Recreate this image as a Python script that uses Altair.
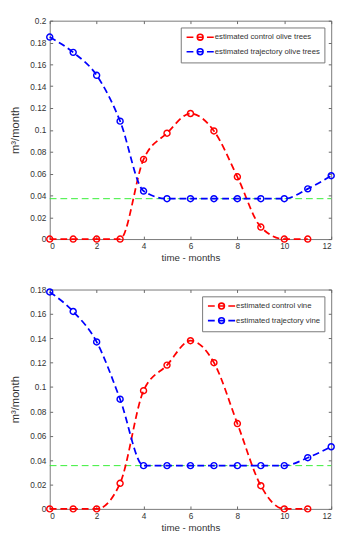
import altair as alt
import pandas as pd

months = list(range(13))
x_ticks = [0, 2, 4, 6, 8, 10, 12]

olive_labels = ["estimated control olive trees", "estimated trajectory olive trees"]
olive_control = [0, 0, 0, 0, 0.073, 0.097, 0.115, 0.099, 0.057, 0.011, 0, 0]
olive_traj = [0.185, 0.171, 0.150, 0.108, 0.044, 0.037, 0.037, 0.037, 0.037, 0.037, 0.037, 0.046, 0.058]
olive_ref = 0.037
olive_yticks = [0, 0.02, 0.04, 0.06, 0.08, 0.1, 0.12, 0.14, 0.16, 0.18, 0.2]

vine_labels = ["estimated control vine", "estimated trajectory vine"]
vine_control = [0, 0, 0, 0.021, 0.097, 0.118, 0.138, 0.120, 0.070, 0.019, 0, 0]
vine_traj = [0.178, 0.162, 0.137, 0.090, 0.0355, 0.0355, 0.0355, 0.0355, 0.0355, 0.0355, 0.0355, 0.042, 0.051]
vine_ref = 0.0355
vine_yticks = [0, 0.02, 0.04, 0.06, 0.08, 0.1, 0.12, 0.14, 0.16, 0.18]

FONT = "Liberation Sans"
LEG_SYMBOL = "M-2.8,0L-1.4,0M1.4,0L2.8,0M-0.6,0L0.6,0M-0.6,0A0.6,0.6,0,1,1,0.6,0A0.6,0.6,0,1,1,-0.6,0"


def tick_axis(orient, values):
    return alt.Axis(orient=orient, offset=-3, ticks=True, tickSize=3, tickWidth=1,
                    tickColor="#666666", labels=False, domain=False, grid=False,
                    title=None, values=values, minExtent=0, maxExtent=0)


def panel(labels, ctrl, traj, ref, yticks, ymax, height):
    df = pd.DataFrame({
        "month": months[:len(ctrl)] + months[:len(traj)],
        "value": ctrl + traj,
        "series": [labels[0]] * len(ctrl) + [labels[1]] * len(traj),
    })
    xs = alt.Scale(domain=[0, 12], nice=False, zero=False)
    ys = alt.Scale(domain=[0, ymax], nice=False)
    color = alt.Color(
        "series:N",
        scale=alt.Scale(domain=labels, range=["#ff0000", "#0000ff"]),
        legend=alt.Legend(title=None, orient="top-right", offset=7,
                          symbolType=LEG_SYMBOL, symbolSize=100,
                          symbolStrokeWidth=1.6, symbolFillColor="transparent",
                          symbolOffset=10, labelOffset=9,
                          labelFont=FONT, labelFontSize=8, labelColor="#333333",
                          rowPadding=1, padding=4,
                          strokeColor="#777777", fillColor="white"),
    )
    main_x = alt.X("month:Q", scale=xs,
                   axis=alt.Axis(orient="bottom", values=x_ticks, title="time - months",
                                 ticks=False, domain=False, grid=False,
                                 labelPadding=3, titlePadding=3, titleFontSize=10,
                                 labelFontSize=8.5, minExtent=0))
    main_y = alt.Y("value:Q", scale=ys,
                   axis=alt.Axis(orient="left", values=yticks, title="m³/month",
                                 labelExpr="format(datum.value, '~g')",
                                 ticks=False, domain=False, grid=False,
                                 labelPadding=4, titlePadding=10, titleFontSize=11.5,
                                 labelFontSize=8.5, minExtent=0))
    lines = alt.Chart(df).mark_line(strokeDash=[7, 4], strokeWidth=1.8,
                                    interpolate="monotone").encode(
        x=main_x, y=main_y, color=color)
    pts = alt.Chart(df).mark_point(shape="circle", filled=False, size=38,
                                   strokeWidth=1.5, opacity=1).encode(
        x=alt.X("month:Q", axis=tick_axis("bottom", x_ticks)),
        y=alt.Y("value:Q", axis=tick_axis("left", yticks)),
        color=color)
    ref_df = pd.DataFrame({"month": [0, 12], "ref": [ref, ref]})
    rule = alt.Chart(ref_df).mark_line(color="#33ee33", strokeDash=[7, 4],
                                       strokeWidth=1).encode(
        x=alt.X("month:Q", axis=tick_axis("top", x_ticks)),
        y=alt.Y("ref:Q", axis=tick_axis("right", yticks)))
    return alt.layer(rule, lines, pts).resolve_axis(
        x="independent", y="independent").properties(width=290, height=height)


top = panel(olive_labels, olive_control, olive_traj, olive_ref, olive_yticks, 0.2, 225)
bottom = panel(vine_labels, vine_control, vine_traj, vine_ref, vine_yticks, 0.18, 226)

chart = alt.vconcat(top, bottom, spacing=22).resolve_scale(color="independent").properties(
    padding={"left": 0, "top": 0, "right": 0, "bottom": 0}
).configure_view(stroke="#777777", strokeWidth=1).configure_axis(
    labelFont=FONT, titleFont=FONT, labelColor="#333333", titleColor="#333333",
    titleFontWeight="normal"
)

chart.save("out.html", embed_options={"renderer": "svg", "actions": False})
